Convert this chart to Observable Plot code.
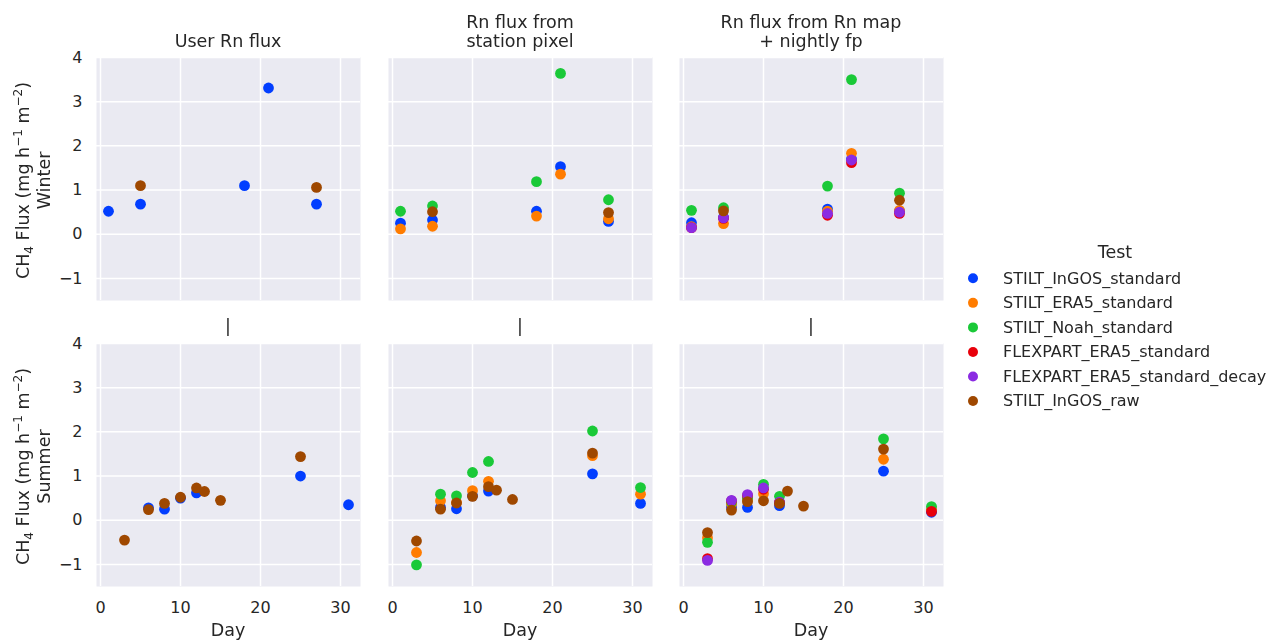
<!DOCTYPE html>
<html>
<head>
<meta charset="utf-8">
<script src="https://cdn.jsdelivr.net/npm/d3@7"></script>
<script src="https://cdn.jsdelivr.net/npm/@observablehq/plot@0.6"></script>
<style>
  html, body { margin: 0; padding: 0; background: white; }
  #chart { position: relative; width: 1273px; height: 641px; overflow: hidden; font-family: "DejaVu Sans", sans-serif; }
</style>
</head>
<body>
<div id="chart"></div>
<script>
// ---- categories ----
const tests = ["STILT_InGOS_standard", "STILT_ERA5_standard", "STILT_Noah_standard",
               "FLEXPART_ERA5_standard", "FLEXPART_ERA5_standard_decay", "STILT_InGOS_raw"];
const testColors = ["#023eff", "#ff7c00", "#1ac938", "#e8000b", "#8b2be2", "#9f4800"];
const methods = ["user", "pixel", "map"];
const methodTitles = ["User Rn flux", "Rn flux from\nstation pixel", "Rn flux from Rn map\n+ nightly fp"];
const seasons = ["Winter", "Summer"];
const xTicks = [0, 10, 20, 30];
const yTicks = [-1, 0, 1, 2, 3, 4];

// ---- series values: [method, season, day, flux] ----
const STILT_InGOS_standard = [
  ["user","Winter",1,0.52],["user","Winter",5,0.68],["user","Winter",18,1.10],["user","Winter",21,3.31],["user","Winter",27,0.68],
  ["pixel","Winter",1,0.25],["pixel","Winter",5,0.32],["pixel","Winter",18,0.52],["pixel","Winter",21,1.53],["pixel","Winter",27,0.29],
  ["map","Winter",1,0.26],["map","Winter",5,0.38],["map","Winter",18,0.57],["map","Winter",21,1.70],["map","Winter",27,0.52],
  ["user","Summer",6,0.28],["user","Summer",8,0.25],["user","Summer",10,0.50],["user","Summer",12,0.62],["user","Summer",25,1.00],["user","Summer",31,0.35],
  ["pixel","Summer",6,0.29],["pixel","Summer",8,0.26],["pixel","Summer",10,0.55],["pixel","Summer",12,0.66],["pixel","Summer",25,1.05],["pixel","Summer",31,0.38],
  ["map","Summer",6,0.30],["map","Summer",8,0.29],["map","Summer",12,0.33],["map","Summer",25,1.11],["map","Summer",31,0.18]
];
const STILT_ERA5_standard = [
  ["pixel","Winter",1,0.12],["pixel","Winter",5,0.18],["pixel","Winter",18,0.41],["pixel","Winter",21,1.36],["pixel","Winter",27,0.35],
  ["map","Winter",1,0.17],["map","Winter",5,0.24],["map","Winter",18,0.52],["map","Winter",21,1.83],["map","Winter",27,0.54],
  ["pixel","Summer",3,-0.73],["pixel","Summer",6,0.44],["pixel","Summer",8,0.40],["pixel","Summer",10,0.67],["pixel","Summer",12,0.88],["pixel","Summer",25,1.46],["pixel","Summer",31,0.59],
  ["map","Summer",3,-0.40],["map","Summer",6,0.36],["map","Summer",8,0.45],["map","Summer",10,0.60],["map","Summer",12,0.40],["map","Summer",25,1.38],["map","Summer",31,0.25]
];
const STILT_Noah_standard = [
  ["pixel","Winter",1,0.52],["pixel","Winter",5,0.64],["pixel","Winter",18,1.19],["pixel","Winter",21,3.64],["pixel","Winter",27,0.78],
  ["map","Winter",1,0.54],["map","Winter",5,0.60],["map","Winter",18,1.09],["map","Winter",21,3.50],["map","Winter",27,0.93],
  ["pixel","Summer",3,-1.01],["pixel","Summer",6,0.59],["pixel","Summer",8,0.55],["pixel","Summer",10,1.08],["pixel","Summer",12,1.33],["pixel","Summer",25,2.02],["pixel","Summer",31,0.74],
  ["map","Summer",3,-0.50],["map","Summer",6,0.41],["map","Summer",8,0.50],["map","Summer",10,0.81],["map","Summer",12,0.54],["map","Summer",25,1.84],["map","Summer",31,0.31]
];
const FLEXPART_ERA5_standard = [
  ["map","Winter",1,0.15],["map","Winter",5,0.36],["map","Winter",18,0.43],["map","Winter",21,1.62],["map","Winter",27,0.47],
  ["map","Summer",3,-0.87],["map","Summer",6,0.44],["map","Summer",8,0.56],["map","Summer",10,0.70],["map","Summer",12,0.40],["map","Summer",31,0.20]
];
const FLEXPART_ERA5_standard_decay = [
  ["map","Winter",1,0.15],["map","Winter",5,0.37],["map","Winter",18,0.47],["map","Winter",21,1.68],["map","Winter",27,0.50],
  ["map","Summer",3,-0.91],["map","Summer",6,0.45],["map","Summer",8,0.58],["map","Summer",10,0.73],["map","Summer",12,0.41]
];
const STILT_InGOS_raw = [
  ["user","Winter",5,1.10],["user","Winter",27,1.06],
  ["pixel","Winter",5,0.51],["pixel","Winter",27,0.49],
  ["map","Winter",5,0.53],["map","Winter",27,0.77],
  ["user","Summer",3,-0.45],["user","Summer",6,0.24],["user","Summer",8,0.38],["user","Summer",10,0.52],["user","Summer",12,0.73],["user","Summer",13,0.65],["user","Summer",15,0.45],["user","Summer",25,1.44],
  ["pixel","Summer",3,-0.47],["pixel","Summer",6,0.25],["pixel","Summer",8,0.39],["pixel","Summer",10,0.54],["pixel","Summer",12,0.76],["pixel","Summer",13,0.68],["pixel","Summer",15,0.47],["pixel","Summer",25,1.52],
  ["map","Summer",3,-0.28],["map","Summer",6,0.23],["map","Summer",8,0.42],["map","Summer",10,0.44],["map","Summer",12,0.38],["map","Summer",13,0.66],["map","Summer",15,0.32],["map","Summer",25,1.61]
];
const seriesArrays = [STILT_InGOS_standard, STILT_ERA5_standard, STILT_Noah_standard,
                      FLEXPART_ERA5_standard, FLEXPART_ERA5_standard_decay, STILT_InGOS_raw];

// ---- build table ----
const table = [];
seriesArrays.forEach((arr, i) => arr.forEach(([method, season, day, flux]) =>
  table.push({test: tests[i], method, season, day, flux})));

// ---- layout ----
const colLeft = [96, 388, 679];
const rowTop = [57, 343];
const panelW = 264, panelH = 243;
const textColor = "#262626";
const font = "'DejaVu Sans', sans-serif";
const fmt = d => (d < 0 ? "\u2212" + Math.abs(d) : String(d));

const chart = document.getElementById("chart");

seasons.forEach((season, r) => {
  methods.forEach((method, c) => {
    const data = table.filter(d => d.season === season && d.method === method);
    const ml = c === 0 ? colLeft[0] : 0;
    const mb = r === 1 ? 40 : 0;
    const svg = Plot.plot({
      width: ml + panelW,
      height: panelH + mb,
      marginLeft: ml, marginRight: 0, marginTop: 0, marginBottom: mb,
      style: {background: "transparent", fontFamily: font, fontSize: "16px", color: textColor, overflow: "visible"},
      x: {domain: [-0.5, 32.5], ticks: xTicks, tickSize: 0, tickPadding: 15, tickFormat: fmt, label: null, axis: r === 1 ? "bottom" : null},
      y: {domain: [-1.5, 4.0], ticks: yTicks, tickSize: 0, tickPadding: 14, tickFormat: fmt, label: null, axis: c === 0 ? "left" : null},
      color: {domain: tests, range: testColors},
      marks: [
        Plot.frame({fill: "#eaeaf2", stroke: null}),
        Plot.gridX(xTicks, {stroke: "white", strokeOpacity: 1, strokeWidth: 1.5}),
        Plot.gridY(yTicks, {stroke: "white", strokeOpacity: 1, strokeWidth: 1.5}),
        Plot.dot(data, {x: "day", y: "flux", fill: "test", r: 5.4, stroke: null})
      ]
    });
    svg.style.position = "absolute";
    svg.style.left = (colLeft[c] - ml) + "px";
    svg.style.top = rowTop[r] + "px";
    svg.style.maxWidth = "none";
    chart.appendChild(svg);
  });
});

// ---- text overlay: titles, axis labels, legend text (grayscale to avoid colour fringes) ----
const ov = d3.create("svg")
  .attr("width", 1273).attr("height", 641)
  .style("position", "absolute").style("left", "0px").style("top", "0px")
  .style("pointer-events", "none").style("filter", "grayscale(1)")
  .style("font-family", font).style("fill", textColor);

methodTitles.forEach((t, c) => {
  const lines = t.split("\n");
  const cx = colLeft[c] + panelW / 2;
  lines.forEach((line, i) => {
    const base = 46.5 - (lines.length - 1 - i) * 19;
    ov.append("text").attr("x", cx).attr("y", base).attr("text-anchor", "middle")
      .attr("font-size", 17.5).attr("fill", textColor).text(line);
  });
  ov.append("text").attr("x", cx).attr("y", rowTop[1] - 11).attr("text-anchor", "middle")
    .attr("font-size", 17.5).attr("fill", textColor).text("|");
  ov.append("text").attr("x", cx).attr("y", 636).attr("text-anchor", "middle")
    .attr("font-size", 17.5).attr("fill", textColor).text("Day");
});

seasons.forEach((season, r) => {
  const cy = rowTop[r] + panelH / 2 + 2;
  const t1 = ov.append("text").attr("transform", `translate(28.5,${cy}) rotate(-90)`)
    .attr("text-anchor", "middle").attr("font-size", 17.5).attr("fill", textColor);
  t1.append("tspan").text("CH");
  t1.append("tspan").attr("font-size", 12).attr("dy", 4).text("4");
  t1.append("tspan").attr("dy", -4).text(" Flux (mg h");
  t1.append("tspan").attr("font-size", 12).attr("dy", -7).text("\u22121");
  t1.append("tspan").attr("dy", 7).text(" m");
  t1.append("tspan").attr("font-size", 12).attr("dy", -7).text("\u22122");
  t1.append("tspan").attr("dy", 7).text(")");
  ov.append("text").attr("transform", `translate(49.5,${cy}) rotate(-90)`)
    .attr("text-anchor", "middle").attr("font-size", 17.5).attr("fill", textColor).text(season);
});

// legend
ov.append("text").attr("x", 1115).attr("y", 258).attr("text-anchor", "middle")
  .attr("font-size", 17.5).attr("fill", textColor).text("Test");
tests.forEach((t, i) => {
  const cy = 278.3 + i * 24.55;
  ov.append("text").attr("x", 1003).attr("y", cy + 5.2).attr("font-size", 16).attr("fill", textColor).text(t);
});
chart.appendChild(ov.node());

// legend markers (colour)
const lg = d3.create("svg")
  .attr("width", 1273).attr("height", 641)
  .style("position", "absolute").style("left", "0px").style("top", "0px")
  .style("pointer-events", "none");
tests.forEach((t, i) => {
  const cy = 278.3 + i * 24.55;
  lg.append("circle").attr("cx", 973).attr("cy", cy).attr("r", 5).attr("fill", testColors[i]);
});
chart.appendChild(lg.node());
</script>
</body>
</html>
